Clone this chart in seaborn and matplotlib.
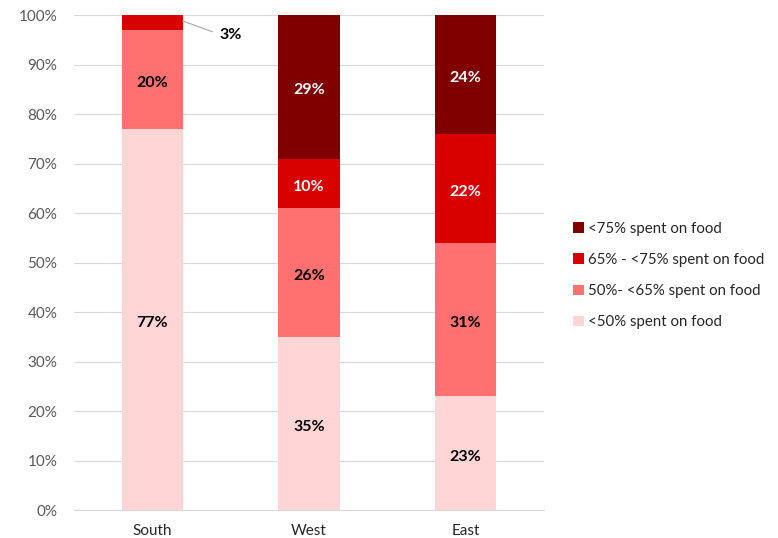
import seaborn as sns
import matplotlib.pyplot as plt
import pandas as pd
import numpy as np

regions = ['South', 'West', 'East']
lt50 = [77, 35, 23]
p50_65 = [20, 26, 31]
p65_75 = [3, 10, 22]
gt75 = [0, 29, 24]

series_names = ['<50% spent on food', '50%- <65% spent on food',
                '65% - <75% spent on food', '<75% spent on food']
colors = ['#ffd5d5', '#ff7070', '#d90000', '#800000']
text_colors = ['black', 'black', 'white', 'white']

sns.set_style('white')
plt.rcParams['font.family'] = ['Lato', 'DejaVu Sans']

layers = [lt50, p50_65, p65_75, gt75]
df = pd.DataFrame({'region': regions})
for name, vals in zip(series_names, layers):
    df[name] = vals
cum = df[series_names].cumsum(axis=1)

fig = plt.figure(figsize=(7.78, 5.38), dpi=100)
ax = fig.add_axes([0.0951, 0.052, 0.6041, 0.92])

# stacked bars: draw the cumulative totals from the top layer down
for i in range(len(series_names) - 1, -1, -1):
    sns.barplot(x=df['region'], y=cum[series_names[i]], color=colors[i],
                width=0.39, ax=ax, saturation=1, label=series_names[i],
                linewidth=0, edgecolor='none', zorder=2)

# value labels
for j, reg in enumerate(regions):
    for i, name in enumerate(series_names):
        v = df.loc[j, name]
        if v == 0:
            continue
        mid = cum.loc[j, name] - v / 2 - 0.4
        if v < 5:
            top = cum.loc[j, name]
            ax.annotate(f'{v}%', xy=(j + 0.195, top - 1.2), xytext=(j + 0.43, 96.2),
                        ha='left', va='center_baseline', fontsize=11.5,
                        fontweight='bold', color='black',
                        arrowprops=dict(arrowstyle='-', color='#a6a6a6', lw=0.8,
                                        connectionstyle='angle,angleA=0,angleB=-20,rad=0',
                                        shrinkA=3, shrinkB=0))
        else:
            ax.text(j, mid, f'{v}%', ha='center', va='center_baseline',
                    fontsize=11.5, fontweight='bold', color=text_colors[i])

ax.set_ylim(0, 100)
ax.set_xlim(-0.5, 2.5)
ax.set_yticks(np.arange(0, 101, 10))
ax.set_yticklabels([f'{t}%' for t in range(0, 101, 10)])
ax.yaxis.grid(True, color='#d9d9d9', lw=0.8, zorder=0)
ax.set_axisbelow(True)
ax.set_xlabel('')
ax.set_ylabel('')
for s in ['top', 'right', 'left']:
    ax.spines[s].set_visible(False)
ax.spines['bottom'].set_color('#d9d9d9')
ax.set_xticks([-0.5, 0.5, 1.5, 2.5], minor=True)
ax.tick_params(axis='x', which='minor', length=5, color='#d9d9d9', direction='out')
ax.tick_params(axis='x', which='major', length=0, labelsize=11,
               labelcolor='#262626', pad=10)
ax.tick_params(axis='y', length=0, labelsize=11, labelcolor='#595959', pad=12)

handles, labels = ax.get_legend_handles_labels()
ax.legend(handles, labels, loc='center left', bbox_to_anchor=(1.049, 0.474),
          borderaxespad=0, frameon=False, fontsize=10.8, handlelength=0.7,
          handleheight=0.7, handletextpad=0.3, labelspacing=1.15)

fig.savefig('out.png', dpi=100)
